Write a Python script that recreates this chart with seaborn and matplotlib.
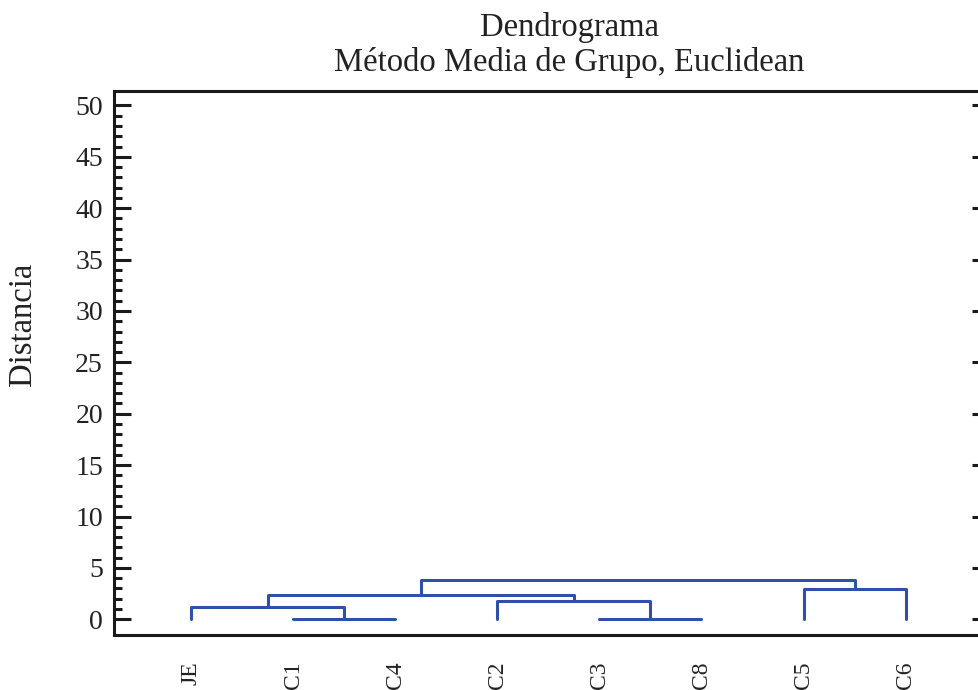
import pandas as pd
import matplotlib
matplotlib.use('Agg')
import matplotlib.pyplot as plt
from matplotlib.ticker import FixedLocator, NullLocator
import seaborn as sns

# hojas del dendrograma (orden de dibujo)
hojas = ['JE', 'C1', 'C4', 'C2', 'C3', 'C8', 'C5', 'C6']

# uniones: cluster a + cluster b a la distancia indicada
# (0..7 = hojas, 8.. = clusters nuevos en orden de unión)
union_a = [1, 4, 0, 3, 10, 6, 12]
union_b = [2, 5, 8, 9, 11, 7, 13]
distancia = [0.0, 0.0, 1.17, 1.8, 2.35, 2.95, 3.87]

titulo1 = 'Dendrograma'
titulo2 = 'Método Media de Grupo, Euclidean'
etiqueta_y = 'Distancia'

# coordenadas de los enlaces a partir de las uniones
pos = {i: float(i) for i in range(len(hojas))}
alt = {i: 0.0 for i in range(len(hojas))}
filas = []
for k, (a, b, h) in enumerate(zip(union_a, union_b, distancia)):
    xa, xb = pos[a], pos[b]
    for x, y in [(xa, alt[a]), (xa, h), (xb, h), (xb, alt[b])]:
        filas.append({'enlace': k, 'x': x, 'y': y})
    nuevo = len(hojas) + k
    pos[nuevo] = (xa + xb) / 2
    alt[nuevo] = h
df = pd.DataFrame(filas)

sns.set_theme(style='ticks')
plt.rcParams['font.family'] = ['Liberation Serif', 'DejaVu Serif']

fig = plt.figure(figsize=(9.79, 6.9), dpi=100)
ax = fig.add_axes([114 / 979, 1 - 635.3 / 690, 865 / 979, (635.3 - 91) / 690])

sns.lineplot(data=df, x='x', y='y', units='enlace', estimator=None, sort=False,
             color='#3050A8', linewidth=2.2, legend=False, ax=ax)

ax.set_xlim(-0.754, -0.754 + 865 / 102.1)
ax.set_ylim(-1.556, 51.4)

ax.set_xticks(range(len(hojas)))
ax.set_xticklabels(hojas, rotation=90, fontsize=17, color='#222222')
ax.tick_params(axis='x', length=0, pad=19)

ax.set_yticks(range(0, 51, 5))
ax.yaxis.set_minor_locator(FixedLocator([i for i in range(0, 51) if i % 5]))
ax.tick_params(axis='y', which='major', direction='in', length=12, width=2.2,
               labelsize=20, pad=8, color='#1a1a1a', labelcolor='#222222')
ax.tick_params(axis='y', which='minor', direction='in', length=6, width=2.2, color='#1a1a1a')
ax.set_xlabel('')
ax.set_ylabel('')

for lado in ['left', 'top', 'bottom']:
    ax.spines[lado].set_linewidth(2.2)
    ax.spines[lado].set_color('#1a1a1a')
ax.spines['right'].set_visible(False)

# marcas del lado derecho (sin etiquetas)
der = ax.secondary_yaxis('right')
der.set_yticks(range(0, 51, 5))
der.yaxis.set_minor_locator(NullLocator())
der.tick_params(direction='in', length=5, width=2.2, labelright=False, color='#1a1a1a')
der.spines['right'].set_visible(False)

fig.text(569.5 / 979, 1 - 36 / 690, titulo1, ha='center', va='baseline', fontsize=23.5, color='#222222')
fig.text(569.5 / 979, 1 - 71 / 690, titulo2, ha='center', va='baseline', fontsize=23.5, color='#222222')
fig.text(23 / 979, 1 - 324.5 / 690, etiqueta_y, rotation=90, ha='center', va='center',
         fontsize=23.5, color='#222222')

fig.savefig('out.png', dpi=100, facecolor='white')
